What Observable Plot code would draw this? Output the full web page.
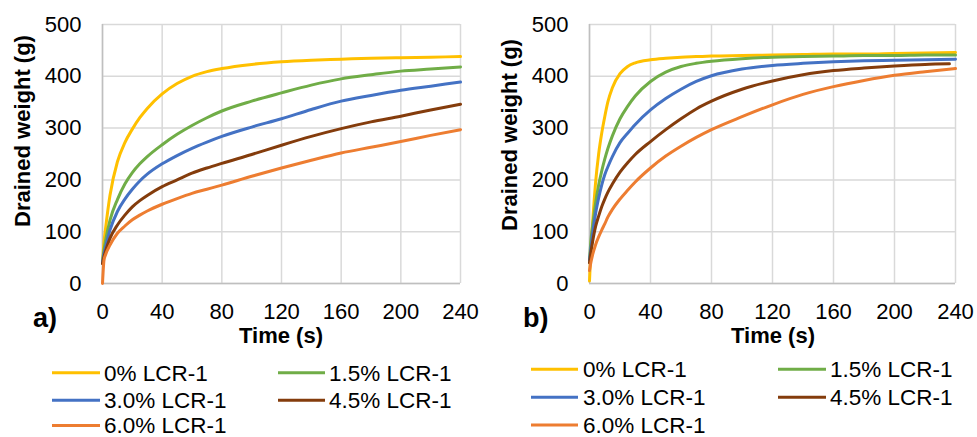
<!DOCTYPE html>
<html><head><meta charset="utf-8">
<script src="https://cdn.jsdelivr.net/npm/d3@7"></script>
<script src="https://cdn.jsdelivr.net/npm/@observablehq/plot@0.6"></script>
<style>
body{margin:0;background:#fff;font-family:"Liberation Sans",Arial,sans-serif;}
#wrap{position:relative;width:977px;height:437px;overflow:hidden;background:#fff;}
#wrap > svg, #wrap > figure{position:absolute;margin:0;}
.pl text{font-size:22px;fill:#000;font-family:"Liberation Sans",Arial,sans-serif;}
</style></head><body><div id="wrap"></div>
<script>
// ---- data ----
const series = ["0% LCR-1","1.5% LCR-1","3.0% LCR-1","4.5% LCR-1","6.0% LCR-1"];
const colors = ["#FFC000","#70AD47","#4472C4","#843C0C","#ED7D31"];
const xTicks = [0,40,80,120,160,200,240];
const yTicks = [0,100,200,300,400,500];
const panelLabels = ["a)","b)"];
const xLabel = "Time (s)";
const yLabel = "Drained weight (g)";

// panel a
const timesA = [0,1,2,5,10,15,20,25,30,40,50,60,70,80,100,120,140,160,180,200,220,240];
const a0  = [40,80,105,170,235,272,298,320,338,366,386,400,409,415,423,428,431,433,435,436,437,438];
const a15 = [40,65,82,122,162,192,214,231,245,268,288,305,320,333,352,368,383,395,403,410,414,418];
const a30 = [40,58,70,103,139,163,182,198,211,231,247,261,273,284,302,318,336,352,363,373,381,389];
const a45 = [38,52,62,87,113,132,148,160,170,187,200,213,223,232,249,267,284,299,312,323,335,346];
const a60 = [0,45,55,74,97,111,123,132,140,153,164,174,182,190,207,223,238,252,263,274,286,297];
const endA = [240,240,240,240,240];

// panel b
const timesB = [0,1,2,4,6,8,10,12,15,20,25,30,40,50,60,70,80,100,120,140,160,180,200,220,240];
const b0  = [5,70,115,195,250,290,322,350,378,405,419,426,432,435,437,438,439,440,441,442,443,443,444,445,446];
const b15 = [45,85,110,155,190,217,240,260,285,318,342,362,390,408,419,425,429,434,437,438,439,440,440,441,441];
const b30 = [45,70,95,135,165,190,210,225,245,272,290,307,335,357,375,390,401,414,421,425,428,430,431,432,433];
const b45 = [40,62,80,110,130,148,163,176,192,215,233,249,274,297,318,337,352,375,391,403,411,416,420,423,424];
const b60 = [25,42,55,75,90,103,115,128,143,163,180,196,223,246,265,282,297,322,345,365,380,392,402,409,415];
const endB = [240,240,240,236,240];

// ---- build ----
function rowsOf(times, list, ends) {
  const rows = [];
  list.forEach((vals, i) => vals.forEach((v, j) => {
    const t = j === vals.length - 1 ? ends[i] : times[j];
    rows.push({t, w: v, s: series[i]});
  }));
  return rows;
}

function makePlot(rows, width, ml, mr) {
  return Plot.plot({
    className: "pl",
    width, height: 340,
    marginLeft: ml, marginRight: mr, marginTop: 24, marginBottom: 57,
    style: {fontFamily: "Liberation Sans, Arial, sans-serif", fontSize: "22px", color: "#000", background: "transparent", overflow: "visible"},
    x: {domain: [0, 240], axis: null},
    y: {domain: [0, 500], ticks: yTicks, tickSize: 0, tickPadding: 21, label: null},
    color: {domain: series, range: colors},
    marks: [
      Plot.ruleX(xTicks, {stroke: "#d9d9d9", strokeWidth: 1.5}),
      Plot.ruleY(yTicks, {stroke: "#d9d9d9", strokeWidth: 1.5}),
      Plot.ruleX([0], {stroke: "#bfbfbf", strokeWidth: 1.5}),
      Plot.ruleY([0], {stroke: "#bfbfbf", strokeWidth: 1.5}),
      // x tick labels placed 28 px below the baseline (y = -54 g in scale units)
      Plot.text(xTicks, {x: d => d, y: () => -54, lineAnchor: "middle", text: d => String(d), fontSize: 22, fill: "#000"}),
      Plot.line(rows, {x: "t", y: "w", z: "s", stroke: "s", strokeWidth: 3, curve: "monotone-x"})
    ]
  });
}

const wrap = document.getElementById("wrap");
const pA = makePlot(rowsOf(timesA, [a0,a15,a30,a45,a60], endA), 488, 102, 28);
pA.style.left = "0px"; pA.style.top = "0px";
wrap.appendChild(pA);
const pB = makePlot(rowsOf(timesB, [b0,b15,b30,b45,b60], endB), 489, 101, 22);
pB.style.left = "488px"; pB.style.top = "0px";
wrap.appendChild(pB);

// overlay texts & legends
const ov = d3.create("svg").attr("width", 977).attr("height", 437)
  .style("left", "0px").style("top", "0px").style("pointer-events", "none")
  .style("font-family", "Liberation Sans, Arial, sans-serif");

const panels = [
  {ylx: 30, yly: 131, tx: 281, lx: 33, leg: {rows: [372.7, 400.2, 425.5], cols: [[52,100,104],[278,325,329]]}},
  {ylx: 517, yly: 135, tx: 773, lx: 523, leg: {rows: [369.3, 397.3, 425], cols: [[531,578,583],[778,826,830]]}}
];
panels.forEach((p, k) => {
  ov.append("text").attr("transform", `translate(${p.ylx},${p.yly}) rotate(-90)`)
    .attr("text-anchor", "middle").attr("font-weight", "bold").attr("font-size", 22).text(yLabel);
  ov.append("text").attr("x", p.tx).attr("y", 343).attr("text-anchor", "middle")
    .attr("font-weight", "bold").attr("font-size", 22).text(xLabel);
  ov.append("text").attr("x", p.lx).attr("y", 327).attr("font-weight", "bold")
    .attr("font-size", 27).text(panelLabels[k]);
  series.forEach((s, i) => {
    const r = Math.floor(i / 2), c = i % 2;
    const y = p.leg.rows[r], col = p.leg.cols[c];
    ov.append("line").attr("x1", col[0]).attr("x2", col[1]).attr("y1", y).attr("y2", y)
      .attr("stroke", colors[i]).attr("stroke-width", 3);
    ov.append("text").attr("x", col[2]).attr("y", y + 7.8).attr("font-size", 22.5).attr("fill", "#000").text(s);
  });
});
wrap.appendChild(ov.node());
</script></body></html>
